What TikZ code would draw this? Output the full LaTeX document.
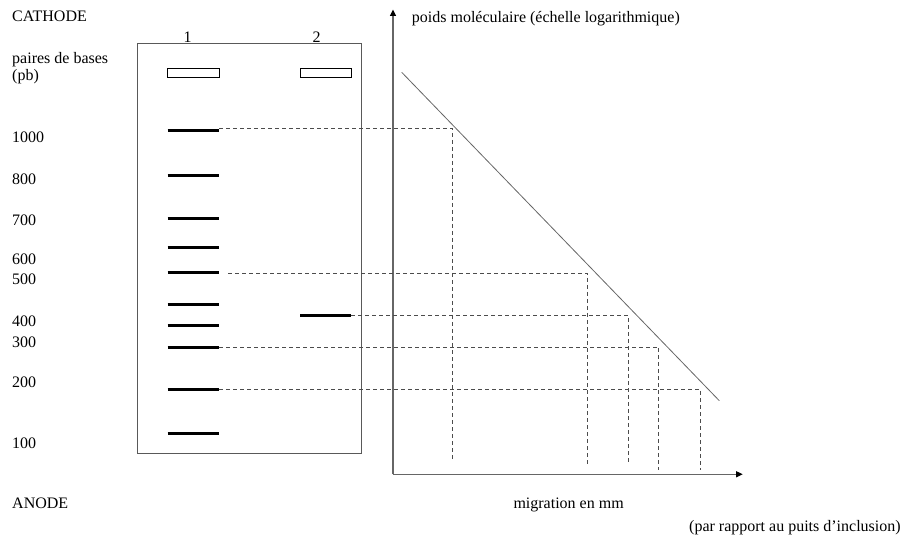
\documentclass[tikz,border=0pt]{standalone}
\usepackage{fontspec}
\setmainfont{Liberation Serif}
\usetikzlibrary{arrows.meta}
\begin{document}
\begin{tikzpicture}[x=1pt,y=-1pt,
  lbl/.style={anchor=base west,inner sep=0pt,font=\fontsize{16}{19}\selectfont},
  clbl/.style={anchor=base,inner sep=0pt,font=\fontsize{16}{19}\selectfont},
  gel/.style={draw=black!65,line width=1pt},
  well/.style={draw=black,line width=0.9pt},
  band/.style={line width=3pt,black},
  guide/.style={draw=black!70,line width=0.8pt,dash pattern=on 4pt off 3pt},
  axis/.style={draw=black!60,line width=1.3pt,-{Triangle[length=6.5pt,width=6pt,color=black]},shorten >=-1pt},
  curve/.style={draw=black!60,line width=0.8pt}]
\useasboundingbox (0,0) rectangle (910,537);
% labels on the left
\node[lbl] (cathode) at (12,21.7) {CATHODE};
\node[lbl] (pb1) at (12,63.5) {paires de bases};
\node[lbl] (pb2) at (12,81) {(pb)};
\node[lbl] (l1000) at (12,143) {1000};
\node[lbl] (l800) at (12,184.3) {800};
\node[lbl] (l700) at (12,225.7) {700};
\node[lbl] (l600) at (12,264.7) {600};
\node[lbl] (l500) at (12,284.7) {500};
\node[lbl] (l400) at (12,326.7) {400};
\node[lbl] (l300) at (12,347.3) {300};
\node[lbl] (l200) at (12,387) {200};
\node[lbl] (l100) at (12,448.7) {100};
\node[lbl] (anode) at (12,508.3) {ANODE};
% gel
\node[clbl] (lane1) at (187.5,42.3) {1};
\node[clbl] (lane2) at (316.5,42.3) {2};
\draw[gel] (137,43.3) rectangle (361.7,453.3);
\draw[well] (167.7,68.5) rectangle (219,77.2);
\draw[well] (300,68.5) rectangle (351.3,77.2);
% bands lane 1
\foreach \n/\y in {a/131,b/175.7,c/218.7,d/247.7,e/273,f/304.3,g/325.3,h/347,i/389.7,j/433.3}{
  \coordinate (b\n L) at (167.7,\y);
  \coordinate (b\n R) at (219,\y);
  \draw[band] (b\n L) -- (b\n R);
}
% band lane 2
\coordinate (sL) at (300,315.7);
\coordinate (sR) at (351.3,315.7);
\draw[band] (sL) -- (sR);
% axes
\coordinate (O) at (393,474.3);
\coordinate (ytop) at (393,10.5);
\coordinate (xend) at (741.7,474.3);
\draw[axis] (O) -- (ytop);
\draw[axis] (O) -- (xend);
\node[lbl] (ylab) at (411.7,22.7) {poids moléculaire (échelle logarithmique)};
\node[lbl] (xlab) at (513.3,508.3) {migration en mm};
\node[lbl] (xlab2) at (689,531.5) {(par rapport au puits d’inclusion)};
% calibration line
\coordinate (c1) at (401.7,72.3);
\coordinate (c2) at (719.3,400.7);
\draw[curve] (c1) -- (c2);
% guides
\coordinate (s500) at (228,273.3);
\coordinate (k1) at (452.7,128.7);
\coordinate (k2) at (587.3,273.3);
\coordinate (k3) at (628.7,315.7);
\coordinate (k4) at (658.7,347);
\coordinate (k5) at (700.3,389.7);
\coordinate (e1) at (452.7,460.7);
\coordinate (e2) at (587.3,465);
\coordinate (e3) at (628.7,465);
\coordinate (e4) at (658.7,470);
\coordinate (e5) at (700.3,470);
\draw[guide] (baR |- k1) -- (k1) -- (e1);
\draw[guide] (s500) -- (k2) -- (e2);
\draw[guide] (sR) -- (k3) -- (e3);
\draw[guide] (bhR) -- (k4) -- (e4);
\draw[guide] (biR) -- (k5) -- (e5);
\end{tikzpicture}
\end{document}
